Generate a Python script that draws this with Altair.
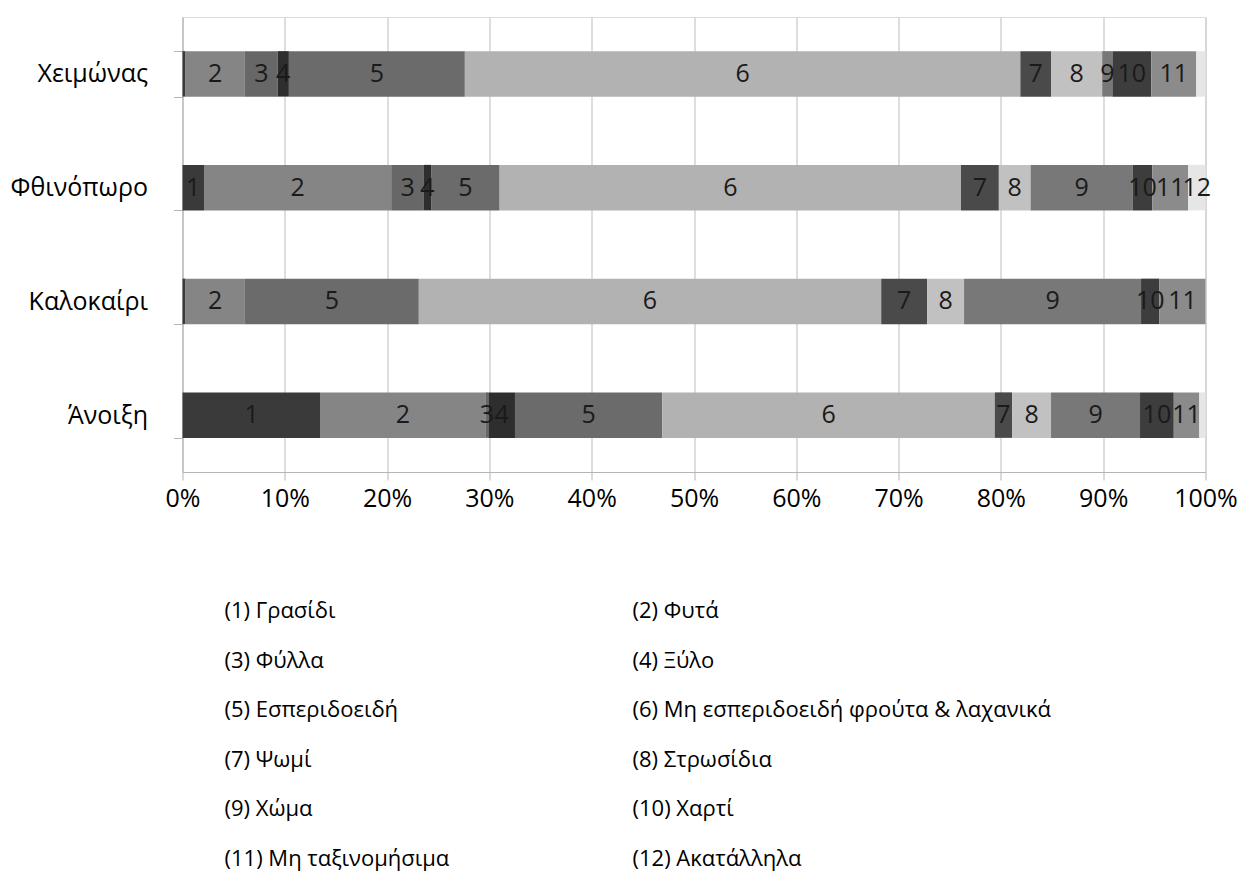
import altair as alt
import pandas as pd

# Seasons, top to bottom
seasons = ["Χειμώνας", "Φθινόπωρο", "Καλοκαίρι", "Άνοιξη"]

# Waste categories 1..12
cat_ids = list(range(1, 13))
cat_names = [
    "Γρασίδι", "Φυτά", "Φύλλα", "Ξύλο", "Εσπεριδοειδή",
    "Μη εσπεριδοειδή φρούτα & λαχανικά", "Ψωμί", "Στρωσίδια",
    "Χώμα", "Χαρτί", "Μη ταξινομήσιμα", "Ακατάλληλα",
]

# Share (%) of each category per season
winter = [0.3, 5.8, 3.2, 1.1, 17.2, 54.3, 3.0, 5.0, 1.0, 3.8, 4.4, 0.9]
autumn = [2.1, 18.3, 3.2, 0.7, 6.7, 45.1, 3.7, 3.1, 10.0, 1.9, 3.5, 1.7]
summer = [0.3, 5.8, 0.0, 0.0, 17.0, 45.2, 4.5, 3.6, 17.3, 1.8, 4.5, 0.0]
spring = [13.5, 16.1, 0.3, 2.6, 14.4, 32.5, 1.7, 3.8, 8.7, 3.3, 2.5, 0.6]

# Whether the category number is printed inside the segment
winter_lab = [0, 1, 1, 1, 1, 1, 1, 1, 1, 1, 1, 0]
autumn_lab = [1, 1, 1, 1, 1, 1, 1, 1, 1, 1, 1, 1]
summer_lab = [0, 1, 0, 0, 1, 1, 1, 1, 1, 1, 1, 0]
spring_lab = [1, 1, 1, 1, 1, 1, 1, 1, 1, 1, 1, 0]

# Grey fill for each category
grays = ["#3a3a3a", "#858585", "#676767", "#2e2e2e", "#6b6b6b", "#b2b2b2",
         "#4a4a4a", "#c1c1c1", "#787878", "#3d3d3d", "#8b8b8b", "#e6e6e6"]

FONT = "Open Sans"

rows = []
for season, shares, labs in zip(seasons,
                                [winter, autumn, summer, spring],
                                [winter_lab, autumn_lab, summer_lab, spring_lab]):
    start = 0.0
    for cid, share, lab in zip(cat_ids, shares, labs):
        rows.append({"season": season, "cat": cid, "share": share,
                     "start": start, "end": start + share,
                     "mid": start + share / 2, "show": lab,
                     "tag": str(cid)})
        start += share
df = pd.DataFrame(rows)

legend_df = pd.DataFrame({
    "cat": cat_ids,
    "text": [f"({i}) {n}" for i, n in zip(cat_ids, cat_names)],
    "col": [(i - 1) % 2 for i in cat_ids],
    "row": [(i - 1) // 2 for i in cat_ids],
})

x_scale = alt.Scale(domain=[0, 100], nice=False)
y_scale = alt.Scale(domain=seasons, paddingInner=0.6, paddingOuter=0.3)

bars = alt.Chart(df[df["share"] > 0]).mark_bar(strokeWidth=0).encode(
    x=alt.X("start:Q", scale=x_scale, axis=alt.Axis(
        values=list(range(0, 101, 10)), labelExpr="datum.value + '%'",
        title=None, grid=True, gridColor="#c8c8c8", gridWidth=1.2,
        domainColor="#b5b5b5", tickColor="#b5b5b5", tickSize=8,
        labelFont=FONT, labelFontSize=25, labelColor="#000000",
        labelPadding=6, labelFlush=False, labelOverlap=False)),
    x2="end:Q",
    y=alt.Y("season:N", scale=y_scale, sort=seasons, axis=alt.Axis(
        title=None, tickBand="extent", domainColor="#b5b5b5",
        tickColor="#b5b5b5", tickSize=9, labelPadding=26,
        labelFont=FONT, labelFontSize=25, labelColor="#000000")),
    color=alt.Color("cat:O", scale=alt.Scale(domain=cat_ids, range=grays),
                    legend=None),
)

numbers = alt.Chart(df[(df["share"] > 0) & (df["show"] == 1)]).mark_text(
    font=FONT, fontSize=25, color="#1a1a1a", align="center", baseline="middle"
).encode(
    x=alt.X("mid:Q", scale=x_scale),
    y=alt.Y("season:N", scale=y_scale, sort=seasons),
    text="tag:N",
)

main = alt.layer(bars, numbers)

key = alt.Chart(legend_df).mark_text(
    font=FONT, fontSize=22, color="#000000", align="left", baseline="middle"
).encode(
    x=alt.X("col:Q", scale=alt.Scale(domain=[0, 1], range=[42, 450]), axis=None),
    y=alt.Y("row:Q", scale=alt.Scale(domain=[0, 5], range=[594, 841.5]), axis=None),
    text="text:N",
)

chart = alt.layer(main, key).resolve_scale(
    x="independent", y="independent"
).properties(
    width=1023, height=455,
    autosize=alt.AutoSizeParams(type="none"),
    padding={"left": 182.5, "top": 17, "right": 33.5, "bottom": 401},
).configure_view(strokeWidth=0).configure(background="#ffffff")

chart.save("out.html", embed_options={"renderer": "svg", "actions": False})
